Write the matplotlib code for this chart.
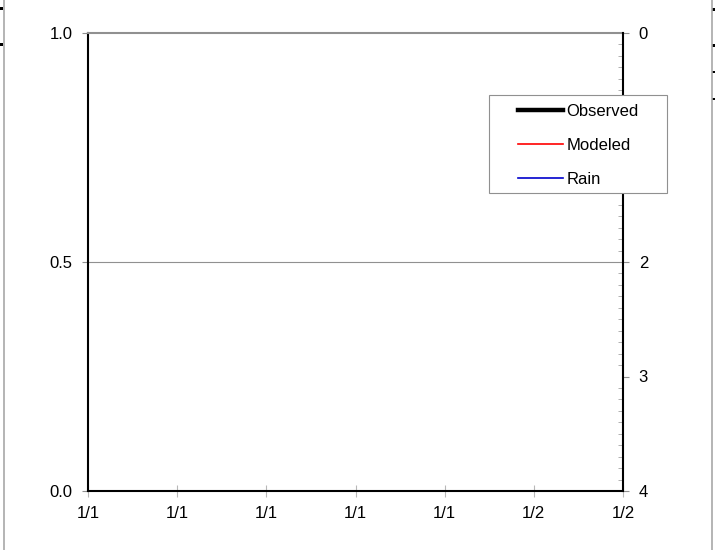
import matplotlib
matplotlib.use("Agg")
import numpy as np
import matplotlib.pyplot as plt
from matplotlib.lines import Line2D
from matplotlib.patches import Rectangle
from matplotlib.legend_handler import HandlerLine2D

plt.rcParams['font.family'] = ['Liberation Sans', 'DejaVu Sans']

# ---- data ----
x_positions = [0, 1, 2, 3, 4, 5, 6]
x_labels = ["1/1", "1/1", "1/1", "1/1", "1/1", "1/2", "1/2"]
left_ticks = [0.0, 0.5, 1.0]
right_ticks = [0, 1, 2, 3, 4]
right_labels = ["0", "1", "2", "3", "4"]
observed_x, observed_y = [], []
modeled_x, modeled_y = [], []
rain_x, rain_y = [], []
series_names = ["Observed", "Modeled", "Rain"]

W, H = 715, 550
fig = plt.figure(figsize=(W / 100, H / 100), dpi=100)
ax = fig.add_axes([88 / W, 1 - 491 / H, (623 - 88) / W, (491 - 33) / H])

FS = 12
GRAY = "#909090"

ax.set_xlim(x_positions[0], x_positions[-1])
ax.set_ylim(0, 1)
ax.set_xticks(x_positions)
ax.set_xticklabels(x_labels, fontsize=FS)
ax.set_yticks(left_ticks)
ax.set_yticklabels([f"{v:.1f}" for v in left_ticks], fontsize=FS)
ax.axhline(0.5, color=GRAY, lw=0.8, zorder=0)
ax.tick_params(axis='x', direction='inout', length=8, width=0.8, color="#b8b8b8", pad=6.5)
ax.tick_params(axis='y', direction='out', length=4.3, width=0.8, color=GRAY, pad=7)
for s in ['left', 'bottom']:
    ax.spines[s].set_color('black')
    ax.spines[s].set_linewidth(1.5)
ax.spines['top'].set_color(GRAY)
ax.spines['top'].set_linewidth(1.5)
ax.spines['right'].set_visible(False)

l1, = ax.plot(observed_x, observed_y, color='black', lw=3.2, label=series_names[0])
l2, = ax.plot(modeled_x, modeled_y, color='red', lw=1.2, label=series_names[1])

ax2 = ax.twinx()
ax2.set_ylim(4, 0)
ax2.set_yticks(right_ticks)
ax2.set_yticklabels(right_labels, fontsize=FS)
ax2.set_yticks([i / 10 for i in range(41)], minor=True)
ax2.tick_params(axis='y', which='major', direction='out', length=4.3, width=0.8, color=GRAY, pad=7)
ax2.tick_params(axis='y', which='minor', direction='in', length=3.6, width=0.7, color="#b0b0b0")
for s in ['left', 'top', 'bottom']:
    ax2.spines[s].set_visible(False)
ax2.spines['right'].set_color('black')
ax2.spines['right'].set_linewidth(1.5)
l3, = ax2.plot(rain_x, rain_y, color='#0000cc', lw=1.2, label=series_names[2])


class OffsetLineHandler(HandlerLine2D):
    """Draw legend line only on the right part of the handle box."""
    FRAC = 0.32

    def get_xdata(self, legend, xdescent, ydescent, width, height, fontsize):
        x0 = -xdescent + width * self.FRAC
        x1 = -xdescent + width
        xd = np.array([x0, x1])
        return xd, xd


# legend frame (exact box) + legend content
fig.add_artist(Rectangle((489 / W, 1 - 193 / H), (667 - 489) / W, (193 - 95) / H,
                         facecolor='white', edgecolor=GRAY, lw=0.8,
                         transform=fig.transFigure, zorder=9))
hmap = {h: OffsetLineHandler() for h in (l1, l2, l3)}
leg = fig.legend(handles=[l1, l2, l3], labels=series_names, handler_map=hmap,
                 bbox_to_anchor=(489 / W, 1 - 96 / H), loc='upper left',
                 fontsize=FS, frameon=False, handlelength=3.96, handletextpad=0.2,
                 labelspacing=1.12, borderpad=0.5, borderaxespad=0)
leg.set_zorder(10)

# edge artifacts
fig.add_artist(Line2D([3.5 / W, 3.5 / W], [0, 1], color="#a8a8a8", lw=1.2))
fig.add_artist(Line2D([711.5 / W, 711.5 / W], [0, 1], color="#a8a8a8", lw=1.2))
for (x0, y0, w, h) in [(0, 7, 3, 3), (0, 43, 3, 3), (712, 8, 3, 3), (712, 44, 3, 3),
                       (712, 71, 3, 1.5), (712, 98, 3, 1.5)]:
    fig.add_artist(Rectangle((x0 / W, 1 - (y0 + h) / H), w / W, h / H,
                             color='black', lw=0, transform=fig.transFigure))

fig.savefig("out.png", dpi=100)
